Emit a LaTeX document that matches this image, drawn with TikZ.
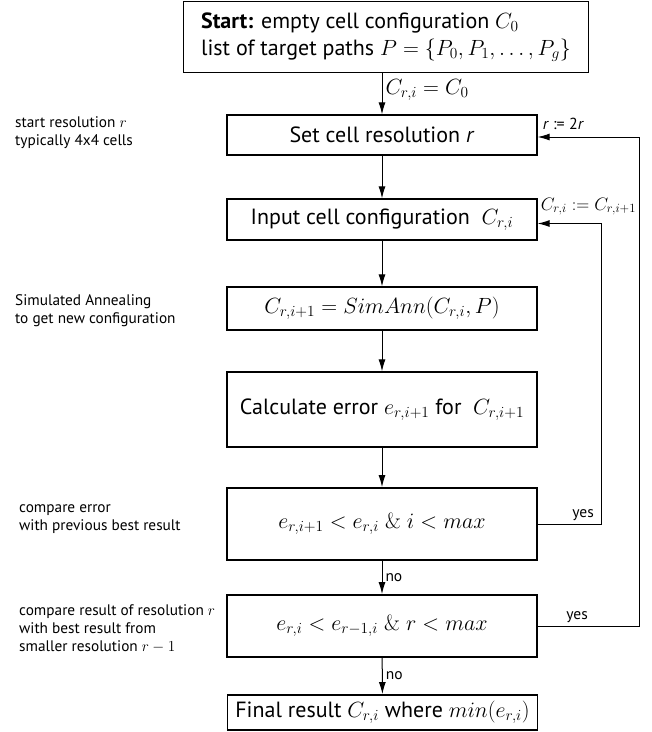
\RequirePackage{fix-cm}
\documentclass[tikz,border=0pt]{standalone}
\usepackage[no-math]{fontspec}
\setmainfont{PT Sans}
\usetikzlibrary{arrows.meta,calc}
\begin{document}
\begin{tikzpicture}[x=1pt,y=-1pt,
  box/.style={draw=black,line width=1.3pt,minimum width=310pt,inner sep=1pt,align=center,font=\fontsize{22}{24}\selectfont},
  boldbox/.style={box,line width=1.8pt},
  arr/.style={line width=1pt,-{Latex[length=12pt,width=7pt]}},
  ann/.style={anchor=west,align=left,inner sep=0pt,font=\fontsize{15.3}{18}\selectfont},
  small/.style={inner sep=1pt,font=\fontsize{15.5}{17}\selectfont}]
\useasboundingbox[fill=white] (0,0) rectangle (652,732);
% boxes
\node[boldbox,align=left,minimum width=405pt,minimum height=71pt,font=\fontsize{22}{27}\selectfont] (start) at (386,37)
  {\textbf{Start:} empty cell configuration $C_0$\\ list of target paths $P=\{P_0,P_1,\ldots,P_g\}$};
\node[box,minimum height=40pt] (set) at (382,135) {Set cell resolution \textit{r}};
\node[box,minimum height=41pt] (input) at (382,219.5) {Input cell configuration \ $C_{r,i}$};
\node[box,minimum height=43pt] (simann) at (382,308.5) {$C_{r,i+1}=SimAnn(C_{r,i},P)$};
\node[box,minimum height=75pt,inner sep=0pt] (calc) at (382,409.5) {Calculate error $e_{r,i+1}$ for \ $C_{r,i+1}$};
\node[boldbox,minimum height=72pt] (cmp1) at (382,524) {$e_{r,i+1}<e_{r,i}\;\&\;i<max$};
\node[boldbox,minimum height=62pt] (cmp2) at (382,626) {$e_{r,i}<e_{r-1,i}\;\&\;r<max$};
\node[boldbox,minimum height=35pt] (final) at (382.5,712.5) {Final result $C_{r,i}$ where $min(e_{r,i})$};
% annotations
\node[ann] (a1) at (15,133) {start resolution $r$\\typically 4x4 cells};
\node[ann] (a2) at (15,311) {Simulated Annealing\\to get new configuration};
\node[ann] (a3) at (19,519) {compare error\\with previous best result};
\node[ann] (a4) at (19,629) {compare result of resolution $r$\\with best result from\\smaller resolution $r-1$};
% main flow
\draw[arr] (start.south -| set) -- node[right,inner sep=3pt,font=\fontsize{22}{24}\selectfont,yshift=4pt]{$C_{r,i}=C_0$} (set);
\draw[arr] (set) -- (input);
\draw[arr] (input) -- (simann);
\draw[arr] (simann) -- (calc);
\draw[arr] (calc) -- (cmp1);
\draw[arr] (cmp1) -- node[right,small,inner sep=3pt]{no} (cmp2);
\draw[arr] (cmp2) -- node[right,small,inner sep=3pt]{no} (final);
% loops
\coordinate (l1) at (601,0);
\coordinate (l2) at (639,0);
\coordinate (inA) at ($(input.east)+(0,4)$);
\coordinate (setA) at ($(set.east)+(0,2)$);
\draw[arr] (cmp1.east) -- (cmp1.east -| l1) -- (l1 |- inA) -- (inA);
\draw[arr] (cmp2.east) -- (cmp2.east -| l2) -- (l2 |- setA) -- (setA);
\node[small,anchor=south east] (y1) at ([xshift=-6pt,yshift=2pt]cmp1.east -| l1) {yes};
\node[small,anchor=south east] (y2) at ([xshift=-50pt,yshift=2pt]cmp2.east -| l2) {yes};
\node[small,anchor=south west,font=\fontsize{16}{17}\selectfont] (r2) at ([xshift=4pt,yshift=6pt]setA) {\textit{r} := 2\textit{r}};
\node[small,anchor=south west,inner sep=0pt,font=\fontsize{18}{19}\selectfont] (cc) at ([xshift=3pt,yshift=8pt]inA) {$C_{r,i}:=C_{r,i+1}$};
\end{tikzpicture}
\end{document}
